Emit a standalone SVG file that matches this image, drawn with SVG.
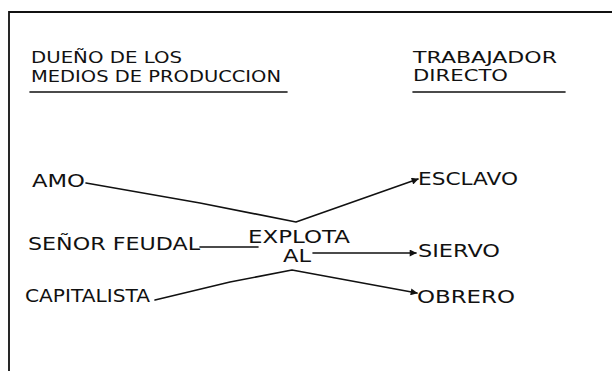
<svg xmlns="http://www.w3.org/2000/svg" width="612" height="371" viewBox="0 0 612 371">
  <style>
    .t { font-family: "DejaVu Sans", "Liberation Sans", sans-serif; font-size: 17px; fill: #111; }
    .h { font-size: 15.5px; }
    .ln { stroke: #111; stroke-width: 1.6; fill: none; stroke-linecap: round; stroke-linejoin: round; }
    .frame { stroke: #111; stroke-width: 1.8; fill: none; }
  </style>
  <defs>
    <marker id="arr" viewBox="0 0 10 10" refX="9" refY="5" markerWidth="9" markerHeight="7" markerUnits="userSpaceOnUse" orient="auto">
      <path d="M0,0 L10,5 L0,10 Z" fill="#111"/>
    </marker>
  </defs>
  <rect width="612" height="371" fill="#fff"/>
  <g id="frame">
    <path class="frame" d="M9,371 L9,12 L612,12"/>
  </g>
  <g id="header-owner">
    <text class="t h" x="31" y="63" textLength="151" lengthAdjust="spacingAndGlyphs">DUEÑO DE LOS</text>
    <text class="t h" x="31" y="82" textLength="250" lengthAdjust="spacingAndGlyphs">MEDIOS DE PRODUCCION</text>
    <line class="ln" x1="30" y1="92" x2="287" y2="92"/>
  </g>
  <g id="header-worker">
    <text class="t h" x="413" y="63" textLength="144" lengthAdjust="spacingAndGlyphs">TRABAJADOR</text>
    <text class="t h" x="413" y="81" textLength="95" lengthAdjust="spacingAndGlyphs">DIRECTO</text>
    <line class="ln" x1="413" y1="92" x2="565" y2="92"/>
  </g>
  <g id="amo"><text class="t" x="32" y="187" textLength="53" lengthAdjust="spacingAndGlyphs">AMO</text></g>
  <g id="senor"><text class="t" x="28" y="250" textLength="172" lengthAdjust="spacingAndGlyphs">SEÑOR FEUDAL</text></g>
  <g id="capitalista"><text class="t" x="25" y="302" textLength="125" lengthAdjust="spacingAndGlyphs">CAPITALISTA</text></g>
  <g id="explota">
    <text class="t" x="248" y="243" textLength="102" lengthAdjust="spacingAndGlyphs">EXPLOTA</text>
    <text class="t" x="283" y="262" textLength="28" lengthAdjust="spacingAndGlyphs">AL</text>
  </g>
  <g id="esclavo"><text class="t" x="418" y="185" textLength="100" lengthAdjust="spacingAndGlyphs">ESCLAVO</text></g>
  <g id="siervo"><text class="t" x="418" y="257" textLength="82" lengthAdjust="spacingAndGlyphs">SIERVO</text></g>
  <g id="obrero"><text class="t" x="417" y="303" textLength="98" lengthAdjust="spacingAndGlyphs">OBRERO</text></g>
  <g id="connectors">
    <path class="ln" d="M86,183 L200,203 L296,222 L418,179" marker-end="url(#arr)"/>
    <path class="ln" d="M200,247 L258,247"/>
    <path class="ln" d="M313,253 L416,253" marker-end="url(#arr)"/>
    <path class="ln" d="M155,300 L230,282 L292,270 L417,293" marker-end="url(#arr)"/>
  </g>
</svg>
